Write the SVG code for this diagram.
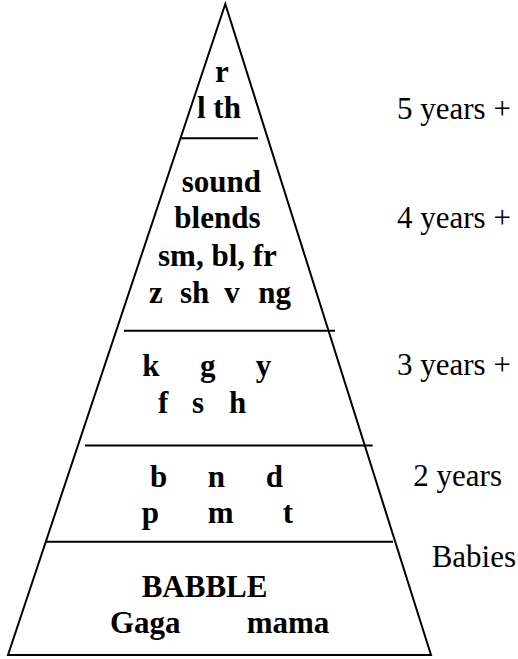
<svg xmlns="http://www.w3.org/2000/svg" width="518" height="659" viewBox="0 0 518 659">
<style>
.ln{stroke:#000;stroke-width:2;fill:none}
.b{font-family:"Liberation Serif","Times New Roman",serif;font-weight:bold;font-size:31px;fill:#000}
.r{font-family:"Liberation Serif","Times New Roman",serif;font-size:31px;fill:#000}
</style>
<rect width="518" height="659" fill="#fff"/>
<g id="pyramid">
<polygon class="ln" points="225.3,4 8,655 431,655"/>
</g>
<g id="dividers">
<line class="ln" x1="181" y1="138.3" x2="258" y2="138.3"/>
<line class="ln" x1="124" y1="330.7" x2="335" y2="330.7"/>
<line class="ln" x1="85" y1="445.5" x2="372.7" y2="445.5"/>
<line class="ln" x1="46" y1="541.7" x2="393" y2="541.7"/>
</g>
<g id="tier5">
<text class="b" x="215" y="81.7">r</text>
<text class="b" x="197" y="118.3">l th</text>
<text class="r" x="397" y="119.3">5 years +</text>
</g>
<g id="tier4">
<text class="b" x="181.7" y="192.3">sound</text>
<text class="b" x="174.3" y="228.3">blends</text>
<text class="b" x="158" y="266">sm, bl, fr</text>
<text class="b" y="302.7"><tspan x="149">z</tspan><tspan x="180">sh</tspan><tspan x="224.3">v</tspan><tspan x="258.3">ng</tspan></text>
<text class="r" x="397" y="228">4 years +</text>
</g>
<g id="tier3">
<text class="b" y="376"><tspan x="142.3">k</tspan><tspan x="200">g</tspan><tspan x="255.7">y</tspan></text>
<text class="b" y="412.7"><tspan x="158">f</tspan><tspan x="192">s</tspan><tspan x="229">h</tspan></text>
<text class="r" x="397" y="375">3 years +</text>
</g>
<g id="tier2">
<text class="b" y="486.7"><tspan x="150">b</tspan><tspan x="207.7">n</tspan><tspan x="265.7">d</tspan></text>
<text class="b" y="523.3"><tspan x="141.7">p</tspan><tspan x="207.7">m</tspan><tspan x="282.7">t</tspan></text>
<text class="r" x="413.3" y="485.7">2 years</text>
</g>
<g id="tier1">
<text class="b" x="141.7" y="596.7">BABBLE</text>
<text class="b" y="633.3"><tspan x="110">Gaga</tspan><tspan x="246.7">mama</tspan></text>
<text class="r" x="431.7" y="567.3">Babies</text>
</g>
</svg>
